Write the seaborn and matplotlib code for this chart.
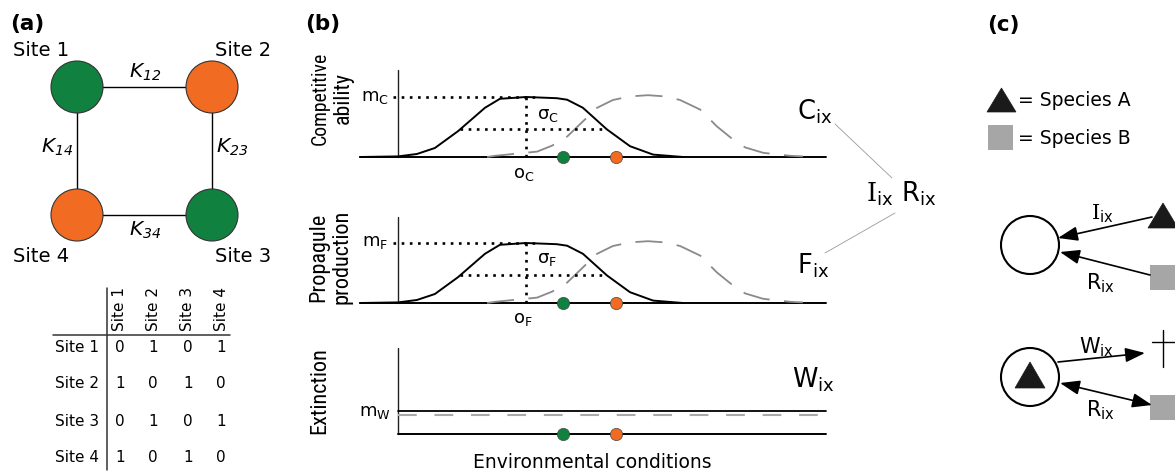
import numpy as np
import pandas as pd
import matplotlib
matplotlib.use("Agg")
import matplotlib.pyplot as plt
from matplotlib import font_manager as fm
from matplotlib.patches import Circle, Polygon, Rectangle
import seaborn as sns

# ---------------- data ----------------
sites = ["Site 1", "Site 2", "Site 3", "Site 4"]
site_colors = ["#11813f", "#f26b22", "#11813f", "#f26b22"]
edge_labels = ["K_{12}", "K_{23}", "K_{34}", "K_{14}"]
adjacency = [[0, 1, 0, 1],
             [1, 0, 1, 0],
             [0, 1, 0, 1],
             [1, 0, 1, 0]]

# environmental gradient positions and response heights
env_A = [-0.89, 0.0, 0.44, 0.86, 1.40, 2.03, 2.38, 2.99, 3.71, 3.95, 4.32, 4.88, 5.42, 5.96, 6.66]
comp_A = [0.0, 0.01, 0.05, 0.15, 0.43, 0.82, 0.97, 1.0, 0.98, 0.955, 0.82, 0.46, 0.18, 0.04, 0.0]
env_B = [2.08, 2.27, 3.25, 3.60, 3.95, 4.65, 5.02, 5.42, 5.84, 6.24, 6.59, 7.06, 7.45, 7.83, 8.11, 8.53, 9.16, 9.46]
comp_B = [0.0, 0.02, 0.09, 0.19, 0.34, 0.82, 0.95, 1.01, 1.03, 1.01, 0.95, 0.79, 0.51, 0.29, 0.16, 0.07, 0.02, 0.01]
fec_A = comp_A
fec_B = comp_B
ext_env = [0.0, 10.0]
ext_A = [0.38, 0.38]
ext_B = [0.32, 0.32]
opt_A = 2.99
half_A = [1.45, 4.81]
half_level = 0.47
site_env = [3.86, 5.09]          # green site, orange site
site_env_colors = ["#11813f", "#f26b22"]

# ---------------- style ----------------
sns.set_style("white")
plt.rcParams["font.family"] = ["DejaVu Sans"]
plt.rcParams["text.color"] = "black"
plt.rcParams["mathtext.fontset"] = "custom"
plt.rcParams["mathtext.rm"] = "DejaVu Serif"
plt.rcParams["mathtext.it"] = "DejaVu Sans:italic"
plt.rcParams["mathtext.bf"] = "DejaVu Sans:bold"
plt.rcParams["mathtext.sf"] = "DejaVu Sans"


def pick_narrow():
    cands = [("Liberation Sans Narrow", "normal"), ("Roboto Condensed", "normal"),
             ("Roboto", "condensed"), ("Open Sans Condensed", "normal"),
             ("DejaVu Sans", "condensed")]
    for fam, st in cands:
        try:
            p = fm.findfont(fm.FontProperties(family=fam, stretch=st),
                            fallback_to_default=False)
        except Exception:
            continue
        low = p.lower()
        if "narrow" in low or "condensed" in low:
            return dict(family=fam, stretch=st)
    return dict(family="DejaVu Sans")


narrow_kw = pick_narrow()

W, H = 1175, 472
fig = plt.figure(figsize=(W / 100, H / 100), dpi=100)

ov = fig.add_axes([0, 0, 1, 1])
ov.set_xlim(0, W)
ov.set_ylim(H, 0)
ov.axis("off")
ov.patch.set_alpha(0)

# ---------------- panel (a) ----------------
ov.text(10, 24, "(a)", fontsize=15.5, fontweight="bold", ha="left", va="center")
node_xy = [(77, 87), (212, 87), (212, 215), (77, 215)]
for i in range(4):
    x0, y0 = node_xy[i]
    x1, y1 = node_xy[(i + 1) % 4]
    ov.plot([x0, x1], [y0, y1], color="black", lw=1.0, zorder=1)
for (x, y), c in zip(node_xy, site_colors):
    ov.add_patch(Circle((x, y), 26, facecolor=c, edgecolor="#333333", lw=0.8, zorder=2))
label_xy = [(41, 50), (243, 50), (243, 257), (41, 257)]
for (x, y), s in zip(label_xy, sites):
    ov.text(x, y, s, fontsize=14, ha="center", va="center")
k_xy = [(145, 72), (232, 147), (145, 230), (57, 147)]
for (x, y), k in zip(k_xy, edge_labels):
    ov.text(x, y, r"$\mathregular{%s}$" % k, fontsize=14.5, fontstyle="italic",
            ha="center", va="center")

# adjacency table
col_x = [120, 153, 188, 221]
row_y = [348, 384, 422, 458]
ov.plot([107, 107], [288, 470], color="#333333", lw=1.1)
ov.plot([53, 230], [335, 335], color="#333333", lw=1.1)
for j, s in enumerate(sites):
    ov.text(col_x[j], 331, s, fontsize=11, rotation=90, ha="center", va="bottom")
for i, s in enumerate(sites):
    ov.text(99, row_y[i], s, fontsize=11, ha="right", va="center")
    for j in range(4):
        ov.text(col_x[j], row_y[i], str(adjacency[i][j]), fontsize=11,
                ha="center", va="center")

# ---------------- panel (b) ----------------
ov.text(305, 24, "(b)", fontsize=15.5, fontweight="bold", ha="left", va="center")


def make_ax(bottom_px, top_px, left_px=360, right_px=826):
    ax = fig.add_axes([left_px / W, 1 - bottom_px / H,
                       (right_px - left_px) / W, (bottom_px - top_px) / H])
    ax.set_xlim(-0.89, 10)
    ax.set_ylim(0, (bottom_px - top_px) / 60.0)
    ax.axis("off")
    ax.patch.set_alpha(0)
    return ax


dot_kw = dict(marker="o", ms=8.8, mec="#444444", mew=0.5, clip_on=False, zorder=5)
dotted_kw = dict(color="black", lw=1.9, linestyle=(0, (1, 2.1)), clip_on=False)


def gauss_panel(ax, yA, yB):
    ymax = ax.get_ylim()[1]
    ax.plot([0, 0], [0, ymax], color="#222222", lw=1.0, clip_on=False)
    ax.plot([-0.89, 10], [0, 0], color="black", lw=1.4, clip_on=False)
    dfA = pd.DataFrame({"env": env_A, "val": yA})
    dfB = pd.DataFrame({"env": env_B, "val": yB})
    sns.lineplot(data=dfB, x="env", y="val", ax=ax, color="#8a8a8a", lw=1.3,
                 linestyle=(0, (15, 8)), sort=False, clip_on=False)
    sns.lineplot(data=dfA, x="env", y="val", ax=ax, color="black", lw=1.4,
                 sort=False, clip_on=False)
    ax.plot([-0.12, opt_A + 0.2], [1.0, 1.0], **dotted_kw)
    ax.plot([opt_A, opt_A], [0, 1.0], **dotted_kw)
    ax.plot(half_A, [half_level, half_level], **dotted_kw)
    for e, c in zip(site_env, site_env_colors):
        ax.plot([e], [0], color=c, **dot_kw)
    ax.set_xlabel("")
    ax.set_ylabel("")


ax1 = make_ax(157, 70)
gauss_panel(ax1, comp_A, comp_B)
ax2 = make_ax(303, 217)
gauss_panel(ax2, fec_A, fec_B)

ax3 = make_ax(434, 348)
ymax3 = ax3.get_ylim()[1]
ax3.plot([0, 0], [0, ymax3], color="#222222", lw=1.0, clip_on=False)
ax3.plot([0, 10], [0, 0], color="black", lw=1.4, clip_on=False)
sns.lineplot(x=ext_env, y=ext_B, ax=ax3, color="#aaaaaa", lw=1.5,
             linestyle=(0, (9, 8.5)), clip_on=False)
sns.lineplot(x=ext_env, y=ext_A, ax=ax3, color="black", lw=1.3, clip_on=False)
for e, c in zip(site_env, site_env_colors):
    ax3.plot([e], [0], color=c, **dot_kw)

# y labels of panel b (narrow face, sized to the reference lengths)
renderer = fig.canvas.get_renderer()


def fitted_label(x, y, s, target_len, max_size=16.0):
    t = ov.text(x, y, s, rotation=90, ha="center", va="center", fontsize=14, **narrow_kw)
    ext = t.get_window_extent(renderer=renderer)
    t.set_fontsize(min(14 * target_len / ext.height, max_size))
    return t


fitted_label(320, 98, "Competitive", 94)
fitted_label(343, 98, "ability", 52)
fitted_label(319, 257, "Propagule", 90)
fitted_label(342, 257, "production", 96)
fitted_label(320, 391, "Extinction", 96)
ov.text(592, 462, "Environmental conditions", fontsize=13.5, ha="center", va="center")

ov.text(389, 97, r"$\mathregular{m_C}$", fontsize=13, ha="right", va="center")
ov.text(537, 115, r"$\mathregular{\sigma_C}$", fontsize=13, ha="left", va="center")
ov.text(524, 174, r"$\mathregular{o_C}$", fontsize=13, ha="center", va="center")
ov.text(388, 242, r"$\mathregular{m_F}$", fontsize=13, ha="right", va="center")
ov.text(537, 259, r"$\mathregular{\sigma_F}$", fontsize=13, ha="left", va="center")
ov.text(523, 319, r"$\mathregular{o_F}$", fontsize=13, ha="center", va="center")
ov.text(391, 412, r"$\mathregular{m_W}$", fontsize=13, ha="right", va="center")

ov.text(797, 120, r"$\mathregular{C_{ix}}$", fontsize=18.5, ha="left", va="baseline")
ov.text(797, 273, r"$\mathregular{F_{ix}}$", fontsize=18.5, ha="left", va="baseline")
ov.text(792, 387, r"$\mathregular{W_{ix}}$", fontsize=18.5, ha="left", va="baseline")
ov.text(866, 202, r"$\mathrm{I}_{\mathregular{ix}}\ \mathregular{R_{ix}}$", fontsize=18.5,
        ha="left", va="baseline")
ov.plot([835, 892], [124, 178], color="#999999", lw=0.6)
ov.plot([825, 895], [253, 213], color="#999999", lw=0.6)

# ---------------- panel (c) ----------------
ov.text(987, 25, "(c)", fontsize=15.5, fontweight="bold", ha="left", va="center")
tri_col = "#1a1a1a"
sq_col = "#a6a6a6"


def triangle(cx, top, bottom, half_w):
    ov.add_patch(Polygon([(cx - half_w, bottom), (cx + half_w, bottom), (cx, top)],
                         closed=True, facecolor=tri_col, edgecolor=tri_col, lw=0.5))


def square(x0, y0, s):
    ov.add_patch(Rectangle((x0, y0), s, s, facecolor=sq_col, edgecolor="none"))


triangle(1001.5, 88, 112, 14.5)
square(988, 125, 25)
ov.text(1018, 100, "= Species A", fontsize=13.5, ha="left", va="center")
ov.text(1018, 139, "= Species B", fontsize=13.5, ha="left", va="center")

ov.add_patch(Circle((1030, 245), 29, facecolor="white", edgecolor="black", lw=1.5))
ov.add_patch(Circle((1030, 377), 29, facecolor="white", edgecolor="black", lw=1.5))
triangle(1030, 362, 388, 15)
triangle(1163, 203, 228, 15)
square(1150, 265, 25)
square(1150, 395, 25)
ov.plot([1163, 1163], [330, 367], color="black", lw=1.0)
ov.plot([1152, 1175], [342, 342], color="black", lw=1.0)

arrow_kw = dict(arrowstyle="-|>,head_length=0.6,head_width=0.22", color="black", lw=1.2,
                mutation_scale=20, shrinkA=0, shrinkB=0)
ov.annotate("", xy=(1058, 238), xytext=(1152, 217), arrowprops=arrow_kw)
ov.annotate("", xy=(1060, 252), xytext=(1150, 275), arrowprops=arrow_kw)
ov.annotate("", xy=(1145, 353), xytext=(1058, 362), arrowprops=arrow_kw)
ov.annotate("", xy=(1152, 405), xytext=(1060, 383),
            arrowprops=dict(arrow_kw, arrowstyle="<|-|>,head_length=0.6,head_width=0.22"))
ov.text(1102, 214, r"$\mathrm{I}_{\mathregular{ix}}$", fontsize=15, ha="center", va="center")
ov.text(1100, 283, r"$\mathregular{R_{ix}}$", fontsize=15, ha="center", va="center")
ov.text(1097, 347, r"$\mathregular{W_{ix}}$", fontsize=15, ha="center", va="center")
ov.text(1100, 410, r"$\mathregular{R_{ix}}$", fontsize=15, ha="center", va="center")

fig.savefig("out.png", dpi=100, facecolor="white")
